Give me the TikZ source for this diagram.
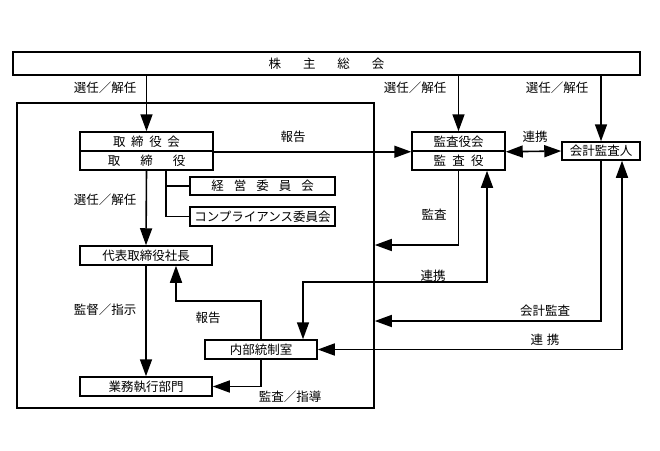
\documentclass[tikz,border=0pt]{standalone}
\usepackage{fontspec}
\setmainfont{Noto Sans CJK JP}
\usetikzlibrary{arrows.meta}
\begin{document}
\begin{tikzpicture}[x=1pt,y=-1pt,
  font=\fontsize{12.5}{14}\selectfont,
  box/.style={draw,line width=1.5pt,inner sep=0pt,minimum height=19pt,fill=white},
  ln/.style={line width=1.6pt},
  arr/.style={ln,-{Triangle[length=17pt,width=12pt]}},
  arrb/.style={ln,{Triangle[length=17pt,width=12pt]}-{Triangle[length=17pt,width=12pt]}},
  lbl/.style={inner sep=1pt}]
\useasboundingbox (0,0) rectangle (660,450);
% frames and boxes
\node[draw,line width=1.6pt,minimum width=357pt,minimum height=305pt,inner sep=0pt] (inner) at (195.5,255.5) {};
\node[box,minimum width=627pt,minimum height=23pt] (sh) at (326.5,63.5) {株\hspace{1.75em}主\hspace{1.75em}総\hspace{1.75em}会};
\node[box,minimum width=133pt] (tkai) at (146.5,141.5) {取\hspace{.45em}締\hspace{.45em}役\hspace{.45em}会};
\node[box,minimum width=133pt] (tyaku) at (146.5,160.5) {取\hspace{1.6em}締\hspace{1.6em}役};
\node[box,minimum width=93pt] (kkai) at (458.5,141.5) {監査役会};
\node[box,minimum width=93pt] (kyaku) at (458.5,160.5) {監\hspace{.5em}査\hspace{.5em}役};
\node[box,minimum width=78pt,minimum height=18pt] (kaikei) at (601,151) {会計監査人};
\node[box,minimum width=145pt,minimum height=18pt] (keiei) at (262.5,186) {経\hspace{.8em}営\hspace{.8em}委\hspace{.8em}員\hspace{.8em}会};
\node[box,minimum width=145pt] (comp) at (262.5,216.5) {コンプライアンス委員会};
\node[box,minimum width=132pt] (pres) at (146,255.5) {代表取締役社長};
\node[box,minimum width=132pt] (gyomu) at (146,386.5) {業務執行部門};
\node[box,minimum width=112pt] (naibu) at (261,349.5) {内部統制室};
% connectors
\draw[arr] (sh.south -| tkai.north) -- (tkai.north);
\draw[arr] (sh.south -| kkai.north) -- (kkai.north);
\draw[arr] (sh.south -| kaikei.north) -- (kaikei.north);
\draw[arr] (tkai.south east) -- (kkai.south west);
\draw[arrb] (kkai.south east) -- (kaikei.west);
\draw[arr] (tyaku.south) -- (pres.north);
\draw[ln] ([xshift=19.5pt]tyaku.south) |- (comp.west);
\draw[ln] (keiei.west) -- ++(-24,0);
\draw[arr] (pres.south) -- (gyomu.north);
\draw[arr] (naibu.north) -- ++(0,-38) -| ([xshift=30pt]pres.south);
\draw[arr] (naibu.south) |- (gyomu.east);
\draw[arr] (kyaku.south) |- (inner.east |- 0,245);
\draw[arrb] ([xshift=42pt]naibu.north) -- ++(0,-57) -| ([xshift=28.5pt]kyaku.south);
\draw[arr] (kaikei.south) |- (inner.east |- 0,321);
\draw[arrb] ([xshift=21pt]kaikei.south) |- (naibu.east);
% labels
\node[lbl] (l1) at (105,88) {選任／解任};
\node[lbl] (l2) at (415,88) {選任／解任};
\node[lbl] (l3) at (557,88) {選任／解任};
\node[lbl] (l4) at (293,137) {報告};
\node[lbl] (l5) at (535,137) {連携};
\node[lbl] (l6) at (105,200) {選任／解任};
\node[lbl] (l7) at (105,310) {監督／指示};
\node[lbl] (l8) at (208,318) {報告};
\node[lbl] (l9) at (290,397) {監査／指導};
\node[lbl] (l10) at (434,215) {監査};
\node[lbl] (l11) at (433,276) {連携};
\node[lbl] (l12) at (545,311) {会計監査};
\node[lbl] (l13) at (545,340) {連\hspace{.3em}携};
\end{tikzpicture}
\end{document}
